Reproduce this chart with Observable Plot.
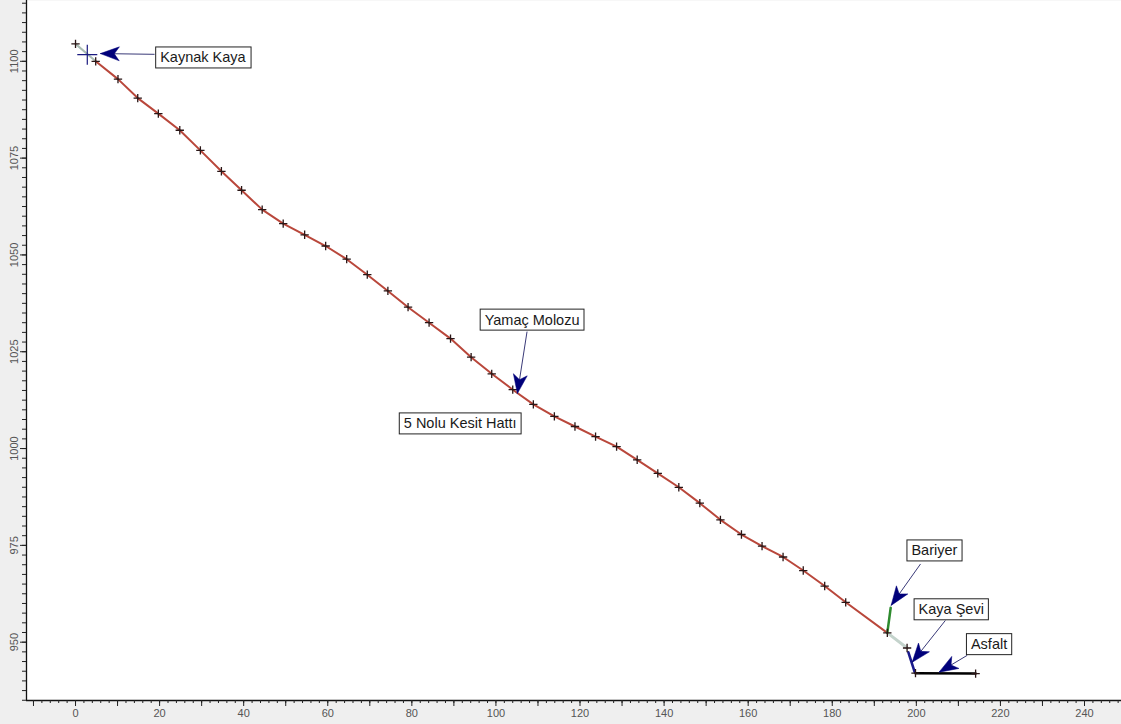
<!DOCTYPE html>
<html>
<head>
<meta charset="utf-8">
<script src="https://cdn.jsdelivr.net/npm/d3@7"></script>
<script src="https://cdn.jsdelivr.net/npm/@observablehq/plot@0.6"></script>
<style>
  html, body { margin: 0; padding: 0; background: #efefef; }
  svg { display: block; }
</style>
</head>
<body>
<script>
// ---- Profile "5 Nolu Kesit Hattı" (distance m, elevation m) ----
const profileX = [4.8, 10.1, 14.8, 19.7, 24.8, 29.7, 34.7, 39.5, 44.4, 49.4, 54.5, 59.5, 64.5, 69.4, 74.3, 79.1, 84.1, 89.2, 94.1, 99.0, 104.0, 108.9, 113.9, 118.8, 123.7, 128.7, 133.6, 138.5, 143.5, 148.5, 153.4, 158.4, 163.3, 168.3, 173.1, 178.2, 183.2, 193.1];
const profileY = [1100.0, 1095.4, 1090.5, 1086.5, 1082.2, 1077.0, 1071.6, 1066.7, 1061.7, 1058.1, 1055.2, 1052.3, 1048.9, 1044.9, 1040.7, 1036.5, 1032.5, 1028.4, 1023.6, 1019.3, 1015.2, 1011.4, 1008.3, 1005.7, 1003.1, 1000.5, 997.1, 993.6, 990.0, 985.9, 981.6, 977.8, 974.8, 972.0, 968.5, 964.5, 960.3, 952.4];

// other segments
const headX = [0, 4.8];         const headY = [1104.5, 1100.0];
const tailX = [193.1, 197.8];   const tailY = [952.4, 948.5];
const bariyerX = [193.1, 193.9]; const bariyerY = [952.4, 958.9];
const kayaSeviX = [198.1, 199.6]; const kayaSeviY = [947.4, 942.3];
const asfaltX = [199.8, 214.1];  const asfaltY = [942.0, 941.9];
const extraMarkX = [0, 197.8, 199.8, 214.1];
const extraMarkY = [1104.5, 948.5, 942.0, 941.9];
const sourceX = [2.8]; const sourceY = [1101.7];

// annotations
const labelText = ["Kaynak Kaya", "Yamaç Molozu", "5 Nolu Kesit Hattı", "Bariyer", "Kaya Şevi", "Asfalt"];
const labelX = [30.3, 108.6, 91.5, 204.3, 208.3, 217.3];
const labelY = [1100.9, 1033.2, 1006.4, 973.6, 958.4, 949.4];
const arrowFromX = [18.8, 107.4, null, 201.0, 206.9, 212.1];
const arrowFromY = [1101.8, 1030.2, null, 970.2, 955.6, 946.6];
const arrowToX = [5.9, 105.1, null, 194.0, 199.0, 205.4];
const arrowToY = [1102.0, 1014.2, null, 959.5, 944.8, 942.25];

// axes
const xDomain = [-11.66, 248.8];
const yDomain = [934.94, 1115.7];
const xLabels = d3.range(0, 241, 20);
const xMajor = d3.range(-10, 249, 10);
const xMinor = d3.range(-10, 249, 2);
const yLabels = d3.range(950, 1101, 25);
const yMinor = d3.range(935, 1116, 2.5);

const W = 1121, H = 724, mL = 26, mB = 24;

const toPts = (xs, ys) => xs.map((x, i) => ({x, y: ys[i]}));
const profile = toPts(profileX, profileY);
const markers = toPts(profileX, profileY).concat(toPts(extraMarkX, extraMarkY));

const sx = Plot.scale({x: {domain: xDomain, range: [mL, W]}});
const sy = Plot.scale({y: {domain: yDomain, range: [H - mB, 0]}});

const arrows = labelText.map((t, i) => ({
  x1: arrowFromX[i], y1: arrowFromY[i], x2: arrowToX[i], y2: arrowToY[i]
})).filter(d => d.x1 != null).map(d => {
  const dx = sx.apply(d.x1) - sx.apply(d.x2);
  const dy = sy.apply(d.y1) - sy.apply(d.y2);
  return {...d, angle: Math.atan2(-dx, dy) * 180 / Math.PI};
});

const dart = {
  draw(ctx) {
    ctx.moveTo(0, 0);
    ctx.lineTo(-7, 19);
    ctx.lineTo(0, 14);
    ctx.lineTo(7, 19);
    ctx.closePath();
  }
};

const labels = labelText.map((t, i) => ({t, x: labelX[i], y: labelY[i]}));
const font = "'Liberation Sans', Arial, sans-serif";

const svg = Plot.plot({
  width: W, height: H,
  marginLeft: mL, marginRight: 0, marginTop: 0, marginBottom: mB,
  style: {background: "#efefef", fontFamily: font},
  x: {domain: xDomain, axis: null},
  y: {domain: yDomain, axis: null},
  marks: [
    Plot.frame({fill: "white", stroke: null}),
    // axis lines
    Plot.ruleX([xDomain[0]], {stroke: "#111", strokeWidth: 1.3}),
    Plot.ruleY([yDomain[0]], {stroke: "#111", strokeWidth: 1.3}),
    // x ticks
    Plot.axisX({ticks: xMinor, tickSize: 3, tickFormat: () => "", label: null, stroke: "#222"}),
    Plot.axisX({ticks: xMajor, tickSize: 6, tickFormat: () => "", label: null, stroke: "#222"}),
    Plot.axisX({ticks: xLabels, tickSize: 0, tickPadding: 9, fontSize: 11, label: null, fill: "#555"}),
    // y ticks
    Plot.axisY({ticks: yMinor, tickSize: 4, tickFormat: () => "", label: null, stroke: "#222"}),
    Plot.axisY({ticks: yLabels, tickSize: 6, tickFormat: () => "", label: null, stroke: "#222"}),
    Plot.text(yLabels, {y: d => d, text: d => String(d), frameAnchor: "left", dx: -12, rotate: -90,
      textAnchor: "middle", lineAnchor: "middle", fontSize: 11, fill: "#555"}),
    // segments
    Plot.line(toPts(headX, headY), {x: "x", y: "y", stroke: "#aabdb4", strokeWidth: 2}),
    Plot.line(profile, {x: "x", y: "y", stroke: "#b9473b", strokeWidth: 2}),
    Plot.line(toPts(tailX, tailY), {x: "x", y: "y", stroke: "#c4d3cc", strokeWidth: 3}),
    Plot.line(toPts(bariyerX, bariyerY), {x: "x", y: "y", stroke: "#2e8b2e", strokeWidth: 2.5}),
    Plot.line(toPts(kayaSeviX, kayaSeviY), {x: "x", y: "y", stroke: "#1a1a8c", strokeWidth: 2.5}),
    Plot.line(toPts(asfaltX, asfaltY), {x: "x", y: "y", stroke: "#000", strokeWidth: 2.5}),
    // markers
    Plot.dot(markers, {x: "x", y: "y", symbol: "plus", r: 2.8, stroke: "#2a1616", strokeWidth: 1.3}),
    Plot.dot(toPts(sourceX, sourceY), {x: "x", y: "y", symbol: "plus", r: 6.5, stroke: "#1a1a80", strokeWidth: 1.2}),
    // arrows
    Plot.link(arrows, {x1: "x1", y1: "y1", x2: "x2", y2: "y2", stroke: "#3a3a78", strokeWidth: 1}),
    Plot.dot(arrows, {x: "x2", y: "y2", symbol: dart, rotate: "angle", fill: "#00007a", stroke: "#00007a", strokeWidth: 0.5, r: 10}),
    // labels
    Plot.text(labels, {x: "x", y: "y", text: "t", textAnchor: "middle", lineAnchor: "middle",
      fontSize: 14.5, fill: "#1a1a1a", ariaDescription: "annotation"})
  ]
});

document.body.append(svg);

// add boxes behind annotation texts
const g = svg.querySelector('g[aria-description="annotation"]');
if (g) {
  g.querySelectorAll("text").forEach(t => {
    const b = t.getBBox();
    const r = document.createElementNS("http://www.w3.org/2000/svg", "rect");
    r.setAttribute("x", b.x - 4.5);
    r.setAttribute("y", b.y - 2.5);
    r.setAttribute("width", b.width + 9);
    r.setAttribute("height", b.height + 5);
    r.setAttribute("fill", "white");
    r.setAttribute("stroke", "#222");
    r.setAttribute("stroke-width", "1");
    const tr = t.getAttribute("transform");
    if (tr) r.setAttribute("transform", tr);
    t.parentNode.insertBefore(r, t);
  });
}
</script>
</body>
</html>
